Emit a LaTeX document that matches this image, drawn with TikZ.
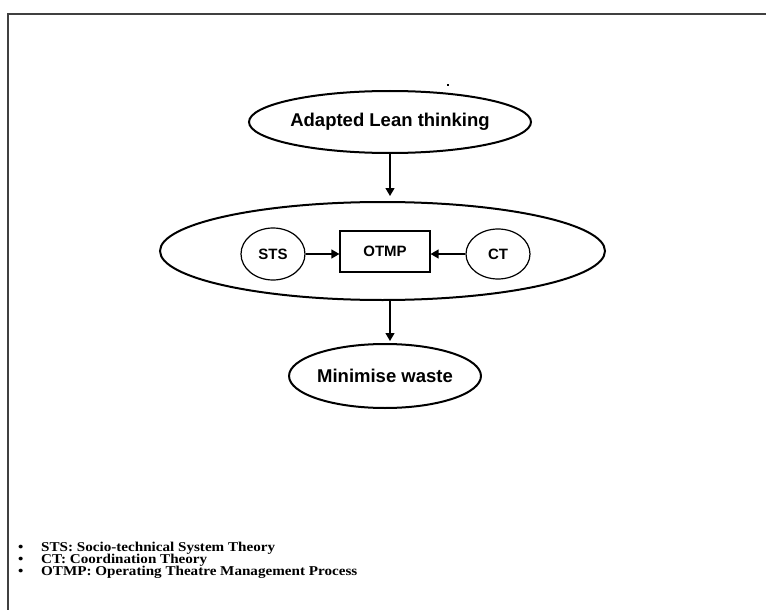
\documentclass[tikz,border=0pt]{standalone}
\usepackage{fontspec}
\setmainfont{Liberation Sans}
\newfontfamily\legendfont[FakeStretch=1.12]{Liberation Serif}
\usetikzlibrary{shapes.geometric,arrows.meta}

\begin{document}
\begin{tikzpicture}[x=1pt, y=-1pt,
  oval/.style={draw, ellipse, line width=2pt, inner sep=0pt,
    font=\bfseries\fontsize{18.5}{20}\selectfont},
  smalloval/.style={draw, ellipse, line width=1.2pt, inner sep=0pt,
    minimum width=64pt, minimum height=52pt,
    font=\bfseries\fontsize{15}{17}\selectfont},
  procbox/.style={draw, rectangle, line width=1.2pt, inner sep=0pt,
    minimum width=90pt, minimum height=41pt,
    font=\bfseries\fontsize{15}{17}\selectfont},
  flow/.style={-{Triangle[length=8pt,width=9pt]}, line width=1.3pt},
  legendline/.style={anchor=base west, inner sep=0pt,
    font=\legendfont\bfseries\fontsize{13.5}{15}\selectfont}]

\useasboundingbox (0,0) rectangle (766,610);

% frame: only top and left edges are shown
\draw[black!75, line width=1.2pt] (8,610) -- (8,14) -- (766,14);

% stray dot
\fill (447,84) rectangle (449,86);

% main column
\node[oval, minimum width=213pt, minimum height=62pt] (lean) at (390,122) {Adapted Lean thinking};
\node[oval, minimum width=445pt, minimum height=98pt] (core) at (382.5,251) {};
\node[oval, minimum width=188pt, minimum height=64pt] (waste) at (385,376) {Minimise waste};

% inside the big oval
\node[procbox] (otmp) at (385,251.5) {OTMP};
\node[smalloval] (sts) at (273,254) {STS};
\node[smalloval, minimum height=50pt] (ct) at (498,254) {CT};

\draw[flow] (sts.east) -- (sts.east -| otmp.west);
\draw[flow] (ct.west) -- (ct.west -| otmp.east);

\draw[flow, shorten >=5pt] (lean.south) -- (lean.south |- core.north);
\draw[flow, shorten >=2pt] (core.south -| lean.south) -- (lean.south |- waste.north);

% abbreviations
\foreach \txt [count=\i] in {STS: Socio-technical System Theory,
    CT: Coordination Theory,
    OTMP: Operating Theatre Management Process} {
  \node[legendline] (bul\i) at (18, 539+12*\i) {\textbullet};
  \node[legendline] (key\i) at (41, 539+12*\i) {\txt};
}

\end{tikzpicture}
\end{document}
